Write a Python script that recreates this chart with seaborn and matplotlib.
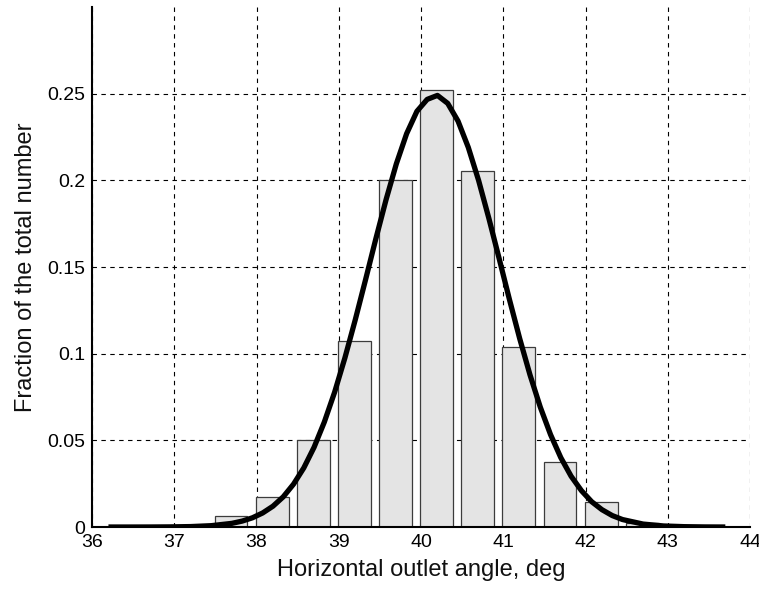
import matplotlib
matplotlib.use("Agg")
import matplotlib.pyplot as plt
import seaborn as sns
import pandas as pd

# Histogram bins (bin centres, deg) and fractions
bin_centers = [37.69, 38.19, 38.69, 39.19, 39.69, 40.19, 40.69, 41.19, 41.69, 42.19, 42.69]
fractions = [0.0062, 0.0175, 0.050, 0.1075, 0.200, 0.252, 0.2055, 0.104, 0.0375, 0.0142, 0.0022]

# Fitted distribution curve
curve_x = [36.20, 36.45, 36.70, 36.95, 37.20, 37.45, 37.70, 37.825, 37.95, 38.075,
           38.20, 38.325, 38.45, 38.575, 38.70, 38.825, 38.95, 39.075, 39.20, 39.325,
           39.45, 39.575, 39.70, 39.825, 39.95, 40.075, 40.20, 40.325, 40.45, 40.575,
           40.70, 40.825, 40.95, 41.075, 41.20, 41.325, 41.45, 41.575, 41.70, 41.825,
           41.95, 42.075, 42.20, 42.325, 42.45, 42.70, 42.95, 43.20, 43.45, 43.70]
curve_y = [0.0, 0.0, 0.00002, 0.00008, 0.00025, 0.00077, 0.0021, 0.0034, 0.0053, 0.0081,
           0.0120, 0.0174, 0.0247, 0.0341, 0.0460, 0.0606, 0.0778, 0.0976, 0.1194, 0.1425,
           0.1661, 0.1888, 0.2095, 0.2269, 0.2398, 0.2467, 0.2490, 0.2444, 0.2342, 0.2190,
           0.2000, 0.1781, 0.1549, 0.1313, 0.1087, 0.0878, 0.0692, 0.0533, 0.0400, 0.0293,
           0.0210, 0.0146, 0.0100, 0.0066, 0.0043, 0.0017, 0.0006, 0.0002, 0.00005, 0.0]

x_ticks = [36, 37, 38, 39, 40, 41, 42, 43, 44]
y_ticks = [0, 0.05, 0.1, 0.15, 0.2, 0.25]
y_tick_labels = ["0", "0.05", "0.1", "0.15", "0.2", "0.25"]

sns.set_style("white")
plt.rcParams["font.family"] = ["Liberation Sans", "DejaVu Sans"]

fig = plt.figure(figsize=(7.59, 5.90), dpi=100)
ax = fig.add_axes([92 / 759, 63 / 590, 658 / 759, 520 / 590])
ax.set_axisbelow(True)

bars = pd.DataFrame({"angle": bin_centers, "fraction": fractions})
sns.barplot(data=bars, x="angle", y="fraction", native_scale=True, width=0.8,
            color="#e4e4e4", saturation=1, edgecolor="#3c3c3c", linewidth=0.9,
            ax=ax, zorder=2)

curve = pd.DataFrame({"angle": curve_x, "fraction": curve_y})
sns.lineplot(data=curve, x="angle", y="fraction", color="black", linewidth=3.8,
             ax=ax, zorder=3, solid_capstyle="butt", solid_joinstyle="round")

ax.set_xlim(36, 44)
ax.set_ylim(0, 0.3)
ax.set_xticks(x_ticks)
ax.set_xticklabels([str(t) for t in x_ticks])
ax.set_yticks(y_ticks)
ax.set_yticklabels(y_tick_labels)

ax.grid(True, color="black", linewidth=0.8, linestyle=(0, (4, 4)))

for side in ["top", "right"]:
    ax.spines[side].set_visible(False)
for side in ["left", "bottom"]:
    ax.spines[side].set_color("black")
    ax.spines[side].set_linewidth(1.5)
    ax.spines[side].set_zorder(4)

ax.tick_params(axis="both", which="major", direction="in", length=5, width=1,
               colors="black", labelsize=14)
ax.tick_params(axis="x", pad=5)
ax.tick_params(axis="y", pad=5)

ax.set_xlabel("Horizontal outlet angle, deg", fontsize=17, color="#111111", labelpad=6)
ax.set_ylabel("Fraction of the total number", fontsize=17, color="#111111", labelpad=7)

fig.savefig("out.png", dpi=100)
